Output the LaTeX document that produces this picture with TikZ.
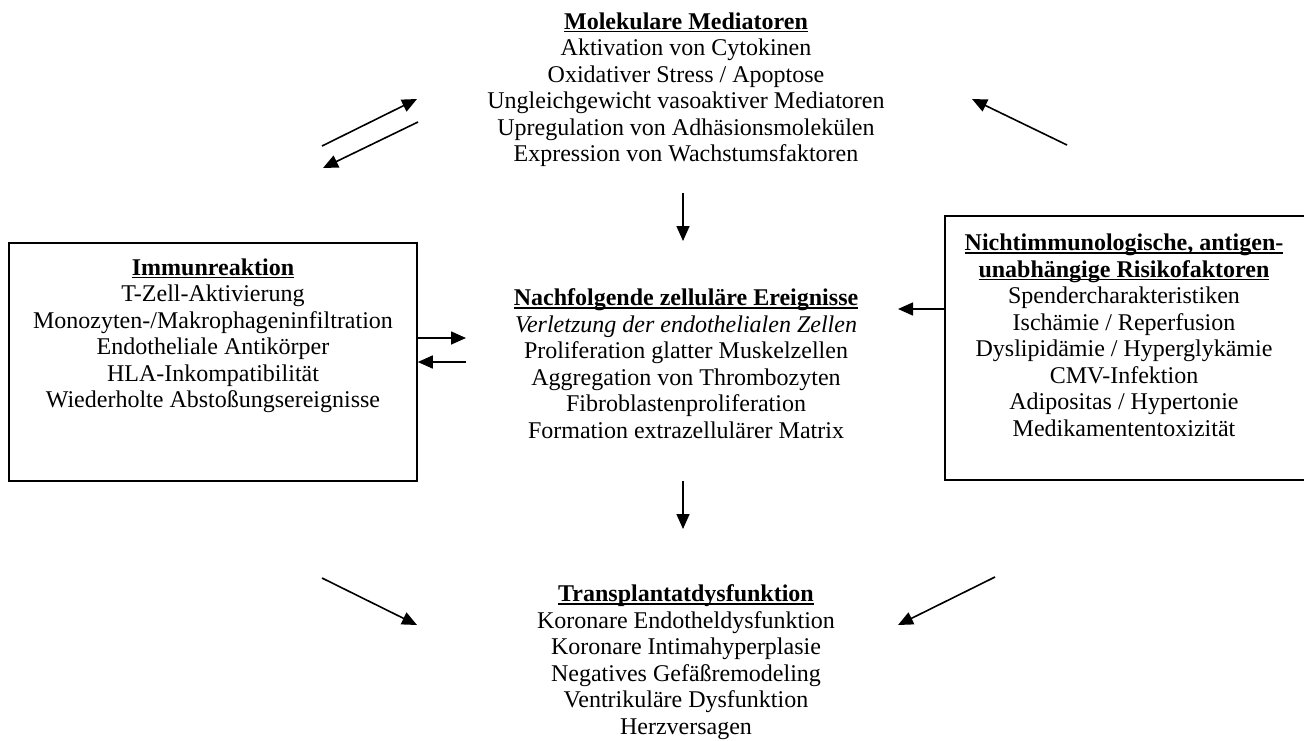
\documentclass[tikz,border=0pt]{standalone}
\usepackage{fontspec}
\setmainfont{Liberation Serif}
\usetikzlibrary{arrows.meta}
\newcommand{\myul}[1]{\setbox0\hbox{#1}\rlap{\rule[-3pt]{\wd0}{1.7pt}}\box0}
\begin{document}
\begin{tikzpicture}[x=1pt,y=-1pt,
  txt/.style={align=center,inner sep=0pt,anchor=north,font=\fontsize{24}{26.5}\selectfont},
  frame/.style={draw,line width=1.6pt,inner sep=0pt},
  arr/.style={line width=1.6pt,-{Triangle[length=15pt,width=13pt]}}]
\useasboundingbox (0,0) rectangle (1304,740);
\clip (0,0) rectangle (1304,740);

% boxes
\node[frame,minimum width=408pt,minimum height=238pt] (immbox) at (213,362) {};
\node[frame,minimum width=365pt,minimum height=264pt] (riskbox) at (1127.5,348) {};

% texts
\node[txt] (mol) at (686,12.5) {\myul{\textbf{Molekulare Mediatoren}}\\
Aktivation von Cytokinen\\
Oxidativer Stress / Apoptose\\
Ungleichgewicht vasoaktiver Mediatoren\\
Upregulation von Adhäsionsmolekülen\\
Expression von Wachstumsfaktoren};

\node[txt] (zell) at (686,288.5) {\myul{\textbf{Nachfolgende zelluläre Ereignisse}}\\
\textit{Verletzung der endothelialen Zellen}\\
Proliferation glatter Muskelzellen\\
Aggregation von Thrombozyten\\
Fibroblastenproliferation\\
Formation extrazellulärer Matrix};

\node[txt] (tx) at (686,584.5) {\myul{\textbf{Transplantatdysfunktion}}\\
Koronare Endotheldysfunktion\\
Koronare Intimahyperplasie\\
Negatives Gefäßremodeling\\
Ventrikuläre Dysfunktion\\
Herzversagen};

\node[txt] (imm) at (213,258.5) {\myul{\textbf{Immunreaktion}}\\
T-Zell-Aktivierung\\
Monozyten-/Makrophageninfiltration\\
Endotheliale Antikörper\\
HLA-Inkompatibilität\\
Wiederholte Abstoßungsereignisse};

\node[txt] (risk) at (1124,234) {\myul{\textbf{Nichtimmunologische, antigen-}}\\
\myul{\textbf{unabhängige Risikofaktoren}}\\
Spendercharakteristiken\\
Ischämie / Reperfusion\\
Dyslipidämie / Hyperglykämie\\
CMV-Infektion\\
Adipositas / Hypertonie\\
Medikamententoxizität};

% free arrow ends
\coordinate (a1s) at (322,146); \coordinate (a1e) at (417,99);
\coordinate (a2s) at (418,122); \coordinate (a2e) at (323,168);
\coordinate (a3s) at (1067,145); \coordinate (a3e) at (972,99);
\coordinate (v1s) at (683,193); \coordinate (v1e) at (683,241);
\coordinate (v2s) at (683,481); \coordinate (v2e) at (683,529);
\coordinate (h1e) at (466,338); \coordinate (h2s) at (466,362);
\coordinate (h3e) at (898,309);
\coordinate (b1s) at (322,578); \coordinate (b1e) at (417,625);
\coordinate (b2s) at (995,577); \coordinate (b2e) at (898,625);

\draw[arr] (a1s) -- (a1e);
\draw[arr] (a2s) -- (a2e);
\draw[arr] (a3s) -- (a3e);
\draw[arr] (v1s) -- (v1e);
\draw[arr] (v2s) -- (v2e);
\draw[arr] (immbox.east |- h1e) -- (h1e);
\draw[arr] (h2s) -- (immbox.east |- h2s);
\draw[arr] (riskbox.west |- h3e) -- (h3e);
\draw[arr] (b1s) -- (b1e);
\draw[arr] (b2s) -- (b2e);
\end{tikzpicture}
\end{document}
